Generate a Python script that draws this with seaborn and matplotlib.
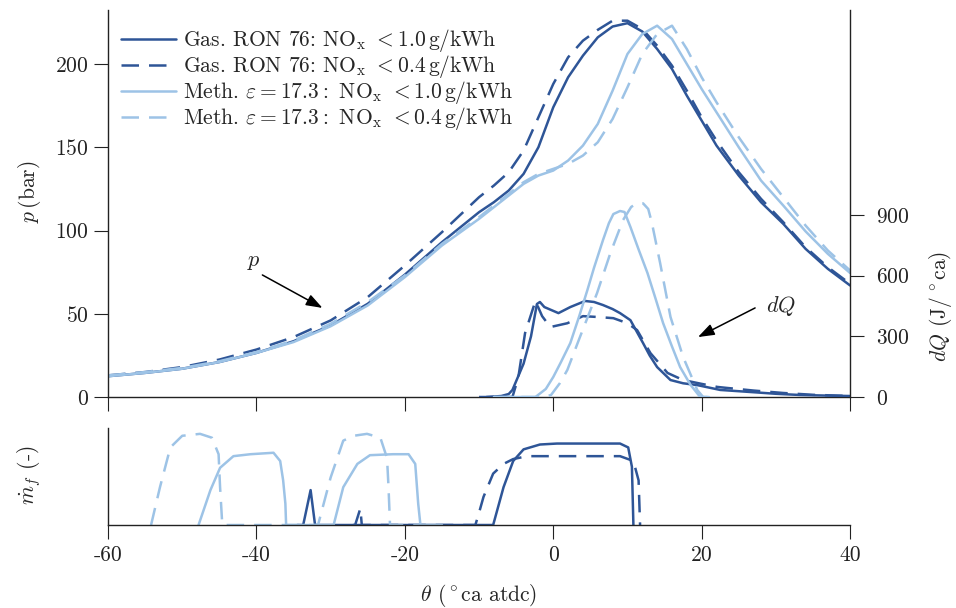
import matplotlib
matplotlib.use("Agg")
import matplotlib.pyplot as plt
import numpy as np
import pandas as pd
import seaborn as sns
from matplotlib.patches import ArrowStyle

# ---- data ------------------------------------------------------------------
# crank angle grid for the cylinder pressure traces (deg ca atdc)
theta_p = [-60, -55, -50, -45, -40, -35, -30, -25, -20, -15, -10, -8, -6, -4, -2,
           0, 2, 4, 6, 8, 10, 12, 14, 16, 18, 20, 22, 25, 28, 31, 34, 37, 40]

p_gas_10 = [12.5, 14.5, 17, 21, 26.5, 33.5, 43, 56, 73.5, 93, 111, 117, 124, 134, 150,
            174, 192, 205, 216, 222.5, 224.5, 219.5, 209, 197, 181, 166, 151, 133, 117, 104, 89, 77, 67]
p_gas_04 = [13, 15, 18, 22.5, 28.5, 36, 46, 60, 79, 99, 120, 127, 135, 148, 168,
            188, 204, 214, 220.5, 226, 226, 221, 211, 199, 184, 168, 154, 135, 119, 105, 90, 78, 68]
p_meth_10 = [12.5, 14.5, 17, 21, 26.5, 33, 42.5, 55, 72, 91, 107, 114, 121, 128, 133,
             136, 142, 151, 164, 184, 206, 218, 223, 215, 200, 185, 171, 150, 130, 115, 99.5, 86, 74.5]
p_meth_04 = [13, 15, 17.5, 21.5, 27, 34, 44, 57, 73, 92, 108, 115, 122, 129, 134,
             137, 140, 145, 153, 167, 186, 206, 218, 223, 209, 192, 177, 156, 137, 120, 103, 88, 76]

# heat release rate dQ (J/deg ca)
th_dq_gas_10 = [-9, -7, -6, -5.5, -4, -3, -2.2, -1.8, -1.2, 0.7, 2.3, 4.3, 5.5, 6.7, 8, 9, 10.4,
                12.1, 13, 14, 15.8, 17.5, 19.4, 22.5, 26.5, 30, 33.3, 37, 40]
dq_gas_10 = [0, 5, 15, 35, 165, 300, 460, 470, 445, 415, 445, 475, 470, 455, 435, 415, 380,
             267, 205, 148, 84, 68, 59, 35, 25, 16, 10, 7, 5]
th_dq_gas_04 = [-10, -5.5, -4.7, -3.8, -2.8, -2.4, -1.5, -0.4, 1.9, 4, 5.9, 8.1, 10, 11.3,
                13.1, 15.4, 17.5, 20, 22.1, 23.4, 27, 31, 35, 40]
dq_gas_04 = [0, 0, 99, 316, 430, 475, 400, 346, 365, 400, 396, 390, 365, 331,
             217, 119, 84, 65, 50, 45, 32, 20, 11, 5]
th_dq_meth_10 = [-8, -2.4, -1, 0, 1, 2.3, 3.5, 4.6, 5.5, 6.7, 7.5, 8.1, 9.0, 9.6, 10.4,
                 11.5, 12.7, 13.8, 14.8, 16, 17.1, 18.5, 19.8, 21]
dq_meth_10 = [0, 0, 40, 99, 170, 267, 400, 529, 640, 776, 860, 905, 920, 915, 841,
              730, 613, 485, 366, 250, 148, 60, 0, 0]
th_dq_meth_04 = [-8, -1.2, -0.3, 0.9, 1.9, 3.6, 5.9, 7.7, 9.4, 10.5, 11.3, 12.1, 12.8,
                 13.3, 14.4, 15.8, 17.5, 19.4, 20.2, 21]
dq_meth_04 = [0, 0, 10, 69, 134, 297, 514, 712, 875, 940, 959, 958, 930,
              860, 663, 396, 198, 35, 0, 0]

# normalised fuel mass flow (-)
th_mf_gas_10 = [-34.5, -33.7, -32.7, -32.1, -8.1, -6.7, -5.4, -4, -1.8, 0.5, 9, 10.1, 10.6, 10.8]
mf_gas_10 = [0, 0, 0.36, 0, 0, 0.39, 0.66, 0.78, 0.83, 0.84, 0.84, 0.80, 0.6, 0]
th_mf_gas_04 = [-27, -26.7, -26.0, -25.8, -10.5, -10.1, -9.4, -8.1, -6.7, -5.4, -3.5, 9, 10.8, 11.5, 11.7]
mf_gas_04 = [0, 0, 0.17, 0, 0, 0.10, 0.29, 0.53, 0.63, 0.68, 0.71, 0.71, 0.66, 0.46, 0]
th_mf_meth_10 = [-47.8, -46.2, -44.9, -43.1, -40.8, -37.7, -36.8, -36.4, -36.1, -36.0,
                 -29.6, -28.3, -26.4, -24.7, -21.6, -19.5, -18.6, -18.2, -17.9, -15]
mf_meth_10 = [0, 0.36, 0.59, 0.71, 0.73, 0.745, 0.66, 0.46, 0.22, 0,
              0, 0.39, 0.63, 0.72, 0.73, 0.73, 0.63, 0.22, 0, 0]
th_mf_meth_04 = [-54.2, -53, -51.6, -50, -47.6, -46, -45.1, -44.9, -44.6,
                 -31.7, -30, -28.3, -26.9, -25.1, -23.3, -22.4, -22.2, -22, -18]
mf_meth_04 = [0, 0.39, 0.8, 0.92, 0.94, 0.9, 0.73, 0.39, 0,
              0, 0.49, 0.87, 0.92, 0.94, 0.9, 0.69, 0.39, 0, 0]

labels = [r"Gas. RON 76: NO$_{\rm x}$ $<1.0\,$g/kWh",
          r"Gas. RON 76: NO$_{\rm x}$ $<0.4\,$g/kWh",
          r"Meth. $\varepsilon=17.3:$ NO$_{\rm x}$ $<1.0\,$g/kWh",
          r"Meth. $\varepsilon=17.3:$ NO$_{\rm x}$ $<0.4\,$g/kWh"]

x_ticks = [-60, -40, -20, 0, 20, 40]
p_ticks = [0, 50, 100, 150, 200]
dq_ticks = [0, 300, 600, 900]

# ---- styling ---------------------------------------------------------------
sns.set_style("ticks")
plt.rcParams.update({
    "font.family": "serif",
    "font.serif": ["cmr10", "DejaVu Serif"],
    "mathtext.fontset": "cm",
    "axes.formatter.use_mathtext": True,
    "axes.unicode_minus": False,
    "font.size": 15.5,
    "axes.edgecolor": "#222222",
    "axes.linewidth": 1.0,
    "xtick.color": "#222222",
    "ytick.color": "#222222",
    "xtick.major.size": 10,
    "ytick.major.size": 10,
    "xtick.major.pad": 5,
    "ytick.major.pad": 4,
    "xtick.direction": "out",
    "ytick.direction": "out",
})

dark = "#2E5597"
light = "#9DC3E6"
dash = (0, (7, 4))
lw = 1.8
styles = [(dark, "-"), (dark, dash), (light, "-"), (light, dash)]

fig = plt.figure(figsize=(9.56, 6.08), dpi=100)
ax = fig.add_axes([0.113, 0.347, 0.7762, 0.6365])
ax2 = ax.twinx()
axb = fig.add_axes([0.113, 0.1365, 0.7762, 0.1595])


def line(a, x, y, style, label=None):
    color, ls = style
    sns.lineplot(x=x, y=y, ax=a, color=color, linestyle=ls, linewidth=lw,
                 sort=False, estimator=None, label=label, legend=False)


# pressure
for y, st, lab in zip([p_gas_10, p_gas_04, p_meth_10, p_meth_04], styles, labels):
    line(ax, theta_p, y, st, lab)

# heat release
for x, y, st in zip([th_dq_gas_10, th_dq_gas_04, th_dq_meth_10, th_dq_meth_04],
                    [dq_gas_10, dq_gas_04, dq_meth_10, dq_meth_04], styles):
    line(ax2, x, y, st)

# fuel mass flow
for x, y, st in zip([th_mf_gas_10, th_mf_gas_04, th_mf_meth_10, th_mf_meth_04],
                    [mf_gas_10, mf_gas_04, mf_meth_10, mf_meth_04], styles):
    line(axb, x, y, st)

# axes setup
for a in (ax, axb):
    a.set_xlim(-60, 40)
    a.set_xticks(x_ticks)
ax.set_ylim(0, 232.4)
ax.set_yticks(p_ticks)
ax.tick_params(axis="x", labelbottom=False)
ax.set_xlabel("")
ax.set_ylabel(r"$p\,$(bar)")
ax.yaxis.set_label_coords(-0.087, 0.53)
ax.spines["top"].set_visible(False)
ax.spines["right"].set_visible(False)

ax2.set_ylim(0, 1914)
ax2.set_yticks(dq_ticks)
ax2.tick_params(axis="y", pad=9)
ax2.set_ylabel(r"$dQ$ (J$/^\circ$ca)")
ax2.yaxis.set_label_coords(1.103, 0.235)
for s in ("top", "left", "bottom"):
    ax2.spines[s].set_visible(False)

axb.set_ylim(0, 1)
axb.set_yticks([])
axb.set_xticklabels([str(t) for t in x_ticks])
axb.set_xlabel(r"$\theta$ ($^\circ$ca atdc)", labelpad=12)
axb.set_ylabel(r"$\dot{m}_f$ (-)")
axb.yaxis.set_label_coords(-0.087, 0.515)
axb.spines["top"].set_visible(False)
axb.spines["right"].set_visible(False)

# legend
handles = ax.get_lines()[:4]
ax.legend(handles, labels, loc="upper left", bbox_to_anchor=(0.018, 0.955),
          frameon=False, handlelength=2.55, handletextpad=0.3, labelspacing=-0.05,
          borderaxespad=0, borderpad=0, fontsize=15.5)

# annotations
arrow = ArrowStyle("-|>", head_length=0.9, head_width=0.32)
ax.annotate("", xy=(-31.1, 53.5), xytext=(-39.2, 73.3),
            arrowprops=dict(arrowstyle=arrow, color="black", lw=1.1,
                            mutation_scale=11, shrinkA=0, shrinkB=0))
ax.text(-40.3, 81, r"$p$", ha="center", va="center", fontsize=16)
ax.annotate("", xy=(19.5, 36), xytext=(27.2, 53.5),
            arrowprops=dict(arrowstyle=arrow, color="black", lw=1.1,
                            mutation_scale=11, shrinkA=0, shrinkB=0))
ax.text(30.7, 54.5, r"$dQ$", ha="center", va="center", fontsize=16)

fig.savefig("out.png", dpi=100)
